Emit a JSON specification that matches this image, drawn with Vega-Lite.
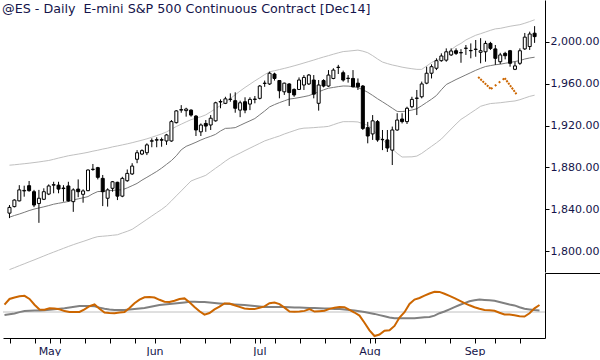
{
"$schema": "https://vega.github.io/schema/vega-lite/v6.json",
"padding": 0,
"background": "white",
"spacing": 0,
"config": {"view": {"stroke": null}, "font": "DejaVu Sans", "axis": {"labelFont": "DejaVu Sans"}},
"datasets": {
"bars": [
{"i":0,"o":1836.25,"h":1844,"l":1831.5,"c":1841.75,"m":1832.4,"u":1882.1,"lb":1782.3,"f":7.3,"s":-2.9},
{"i":1,"o":1842.5,"h":1849.5,"l":1841.75,"c":1848.75,"m":1834.0,"u":1882.5,"lb":1784.1,"f":13,"s":-2.2},
{"i":2,"o":1848,"h":1863,"l":1847.5,"c":1858.5,"m":1835.4,"u":1883.0,"lb":1786.0,"f":14.5,"s":-1.4},
{"i":3,"o":1857.5,"h":1862.5,"l":1852,"c":1858,"m":1837.0,"u":1883.5,"lb":1787.8,"f":15.7,"s":-0.1},
{"i":4,"o":1862.5,"h":1867,"l":1856.75,"c":1857.75,"m":1838.7,"u":1884.0,"lb":1789.7,"f":16.2,"s":1},
{"i":5,"o":1856.75,"h":1858.5,"l":1842,"c":1844,"m":1840.1,"u":1884.6,"lb":1791.5,"f":13.1,"s":1.2},
{"i":6,"o":1845.5,"h":1858.5,"l":1827,"c":1850.5,"m":1841.2,"u":1885.2,"lb":1793.4,"f":7.3,"s":1.4},
{"i":7,"o":1849.5,"h":1860,"l":1848.75,"c":1856.75,"m":1842.3,"u":1885.9,"lb":1795.3,"f":2.6,"s":1.6},
{"i":8,"o":1854.5,"h":1863.75,"l":1853.5,"c":1862.25,"m":1843.5,"u":1886.6,"lb":1797.2,"f":2.3,"s":1.8},
{"i":9,"o":1863,"h":1866.25,"l":1855.25,"c":1863.5,"m":1844.8,"u":1887.7,"lb":1799.0,"f":3.7,"s":2.3},
{"i":10,"o":1863,"h":1866.25,"l":1855.25,"c":1859.25,"m":1845.7,"u":1888.9,"lb":1800.8,"f":3.5,"s":2.8},
{"i":11,"o":1860.25,"h":1863,"l":1847.25,"c":1859.75,"m":1846.5,"u":1890.0,"lb":1802.6,"f":2.8,"s":3.3},
{"i":12,"o":1862.25,"h":1866.25,"l":1847.25,"c":1848,"m":1847.4,"u":1891.1,"lb":1804.4,"f":0.9,"s":3.8},
{"i":13,"o":1847.25,"h":1860,"l":1837.5,"c":1858.5,"m":1848.9,"u":1891.9,"lb":1806.1,"f":0.1,"s":4.5},
{"i":14,"o":1859.25,"h":1868.5,"l":1851.5,"c":1856.75,"m":1849.9,"u":1892.7,"lb":1807.7,"f":0,"s":5.2},
{"i":15,"o":1854.25,"h":1859,"l":1846.25,"c":1857.5,"m":1850.9,"u":1893.5,"lb":1809.2,"f":0,"s":5.9},
{"i":16,"o":1857.75,"h":1878,"l":1857.25,"c":1877.5,"m":1852.1,"u":1894.4,"lb":1810.8,"f":2.7,"s":6},
{"i":17,"o":1878,"h":1883.25,"l":1876.75,"c":1878.25,"m":1854.8,"u":1895.5,"lb":1812.5,"f":5.8,"s":6},
{"i":18,"o":1879.75,"h":1880.5,"l":1868.5,"c":1870.5,"m":1856.9,"u":1896.4,"lb":1813.8,"f":7.5,"s":5.7},
{"i":19,"o":1869.5,"h":1872.75,"l":1843,"c":1856.75,"m":1857.0,"u":1897.5,"lb":1814.2,"f":3.2,"s":4.4},
{"i":20,"o":1850.5,"h":1860,"l":1842.5,"c":1858.5,"m":1857.6,"u":1898.4,"lb":1814.6,"f":-0.6,"s":3.2},
{"i":21,"o":1860,"h":1867,"l":1856.75,"c":1866.25,"m":1858.0,"u":1899.6,"lb":1815.1,"f":-1,"s":2.5},
{"i":22,"o":1865.75,"h":1866.25,"l":1848.75,"c":1852.5,"m":1858.4,"u":1900.5,"lb":1815.6,"f":-1.2,"s":2},
{"i":23,"o":1852.5,"h":1871,"l":1851.5,"c":1869.5,"m":1858.6,"u":1901.5,"lb":1817.3,"f":-0.6,"s":2},
{"i":24,"o":1867.25,"h":1878,"l":1866.25,"c":1874.25,"m":1860.4,"u":1902.5,"lb":1818.9,"f":-0.1,"s":2.1},
{"i":25,"o":1873.75,"h":1884,"l":1872.75,"c":1881.25,"m":1862.5,"u":1903.6,"lb":1820.8,"f":4,"s":2.5},
{"i":26,"o":1887.75,"h":1896.5,"l":1884,"c":1894,"m":1864.7,"u":1904.8,"lb":1823.9,"f":8.8,"s":2.9},
{"i":27,"o":1892.75,"h":1897.25,"l":1891.75,"c":1896,"m":1867.8,"u":1906.0,"lb":1827.1,"f":12.3,"s":3.4},
{"i":28,"o":1894,"h":1903,"l":1891.75,"c":1901.5,"m":1870.5,"u":1907.3,"lb":1830.3,"f":14.7,"s":3.9},
{"i":29,"o":1905,"h":1907.75,"l":1899.25,"c":1905.5,"m":1873.3,"u":1908.8,"lb":1833.5,"f":15,"s":4.9},
{"i":30,"o":1906,"h":1908.75,"l":1899.25,"c":1906.5,"m":1876.1,"u":1910.4,"lb":1836.7,"f":14.5,"s":5.9},
{"i":31,"o":1906.5,"h":1908.5,"l":1899.75,"c":1906,"m":1879.3,"u":1912.0,"lb":1839.8,"f":12.2,"s":6.9},
{"i":32,"o":1905.25,"h":1912,"l":1901.5,"c":1911,"m":1882.9,"u":1913.9,"lb":1843.4,"f":10.3,"s":7.4},
{"i":33,"o":1905.25,"h":1925.25,"l":1904.5,"c":1923.75,"m":1886.5,"u":1916.5,"lb":1848.0,"f":10,"s":7.9},
{"i":34,"o":1922.75,"h":1934.75,"l":1922,"c":1934,"m":1891.1,"u":1919.1,"lb":1852.8,"f":11.3,"s":8.5},
{"i":35,"o":1934.75,"h":1939.5,"l":1932.25,"c":1935.25,"m":1896.8,"u":1921.3,"lb":1857.5,"f":13,"s":9},
{"i":36,"o":1934.25,"h":1937,"l":1928.5,"c":1935.75,"m":1900.1,"u":1923.5,"lb":1862.3,"f":13.6,"s":9.6},
{"i":37,"o":1934.75,"h":1935.5,"l":1928.5,"c":1930,"m":1902.0,"u":1925.6,"lb":1867.0,"f":9.8,"s":10.2},
{"i":38,"o":1929,"h":1930,"l":1910,"c":1915.75,"m":1904.0,"u":1927.0,"lb":1868.9,"f":5.1,"s":10.2},
{"i":39,"o":1914,"h":1922,"l":1910,"c":1920.5,"m":1906.2,"u":1928.4,"lb":1870.6,"f":0.7,"s":10.1},
{"i":40,"o":1922,"h":1925.25,"l":1914,"c":1919.5,"m":1908.1,"u":1930.2,"lb":1872.4,"f":-2.7,"s":9.9},
{"i":41,"o":1920.5,"h":1930,"l":1915.75,"c":1927,"m":1909.7,"u":1933.1,"lb":1875.8,"f":-1,"s":9.5},
{"i":42,"o":1924.5,"h":1942.75,"l":1923.75,"c":1941.75,"m":1911.6,"u":1936.2,"lb":1879.2,"f":2.6,"s":9.1},
{"i":43,"o":1942.5,"h":1945,"l":1936.5,"c":1943,"m":1914.8,"u":1939.1,"lb":1882.5,"f":5.3,"s":8.6},
{"i":44,"o":1941.25,"h":1947.5,"l":1940.5,"c":1945.5,"m":1917.3,"u":1942.2,"lb":1886.0,"f":8.6,"s":8.2},
{"i":45,"o":1945,"h":1950.75,"l":1942.75,"c":1945.25,"m":1917.5,"u":1945.8,"lb":1889.1,"f":8.4,"s":7.9},
{"i":46,"o":1943.75,"h":1951.75,"l":1932.25,"c":1936.5,"m":1918.0,"u":1949.4,"lb":1891.4,"f":6.8,"s":7.6},
{"i":47,"o":1934.75,"h":1943.75,"l":1928,"c":1941.75,"m":1920.2,"u":1953.0,"lb":1893.7,"f":5.1,"s":7.3},
{"i":48,"o":1942.75,"h":1947,"l":1931.75,"c":1934.75,"m":1922.4,"u":1956.4,"lb":1896.1,"f":3.5,"s":6.9},
{"i":49,"o":1940.5,"h":1947,"l":1934.75,"c":1945,"m":1924.5,"u":1959.5,"lb":1898.4,"f":3.1,"s":6.4},
{"i":50,"o":1945.25,"h":1948.25,"l":1941.25,"c":1945,"m":1926.7,"u":1962.7,"lb":1900.7,"f":2.9,"s":5.9},
{"i":51,"o":1946,"h":1958.75,"l":1945,"c":1957.75,"m":1930.3,"u":1965.6,"lb":1903.0,"f":4.2,"s":5.4},
{"i":52,"o":1960.25,"h":1963,"l":1957,"c":1960.5,"m":1933.9,"u":1968.7,"lb":1905.3,"f":5.6,"s":5},
{"i":53,"o":1959.75,"h":1971.5,"l":1958.75,"c":1970,"m":1937.8,"u":1971.4,"lb":1906.9,"f":8.8,"s":5},
{"i":54,"o":1969.25,"h":1970.5,"l":1963,"c":1965,"m":1940.0,"u":1972.4,"lb":1908.5,"f":9.5,"s":5},
{"i":55,"o":1963,"h":1963.5,"l":1946,"c":1953.25,"m":1941.9,"u":1973.5,"lb":1910.0,"f":7.9,"s":5},
{"i":56,"o":1952.25,"h":1961,"l":1949.25,"c":1960.5,"m":1943.6,"u":1974.6,"lb":1911.9,"f":4.4,"s":5},
{"i":57,"o":1959.75,"h":1960.5,"l":1938.75,"c":1951.5,"m":1945.3,"u":1975.8,"lb":1913.5,"f":0.5,"s":4.8},
{"i":58,"o":1954.5,"h":1955.5,"l":1947.5,"c":1949.25,"m":1945.9,"u":1977.1,"lb":1915.1,"f":0.2,"s":4.6},
{"i":59,"o":1954.5,"h":1966,"l":1954,"c":1963.5,"m":1946.7,"u":1978.4,"lb":1916.7,"f":0.4,"s":4.4},
{"i":60,"o":1958.75,"h":1968.25,"l":1954,"c":1966,"m":1947.6,"u":1979.8,"lb":1917.5,"f":1.1,"s":4.3},
{"i":61,"o":1959.75,"h":1969.25,"l":1958.75,"c":1968.25,"m":1948.6,"u":1981.2,"lb":1917.7,"f":3,"s":4.1},
{"i":62,"o":1963.5,"h":1968.25,"l":1946,"c":1950,"m":1950.4,"u":1982.6,"lb":1918.0,"f":0.4,"s":4},
{"i":63,"o":1941.25,"h":1963.5,"l":1934.25,"c":1958.75,"m":1952.2,"u":1984.1,"lb":1918.4,"f":0.8,"s":3.8},
{"i":64,"o":1963,"h":1964.25,"l":1956.5,"c":1957.75,"m":1954.1,"u":1985.5,"lb":1918.7,"f":1.3,"s":3.6},
{"i":65,"o":1957.75,"h":1973,"l":1957,"c":1968.25,"m":1955.7,"u":1986.8,"lb":1919.2,"f":3.1,"s":3.4},
{"i":66,"o":1965,"h":1974.75,"l":1964.25,"c":1973,"m":1956.4,"u":1988.2,"lb":1920.8,"f":4.3,"s":3.1},
{"i":67,"o":1975.5,"h":1978,"l":1969.25,"c":1975.75,"m":1957.2,"u":1989.5,"lb":1922.4,"f":5.1,"s":2.9},
{"i":68,"o":1970.5,"h":1972.5,"l":1962,"c":1963.5,"m":1957.8,"u":1990.7,"lb":1923.7,"f":4.8,"s":2.6},
{"i":69,"o":1965.25,"h":1968.25,"l":1961,"c":1965,"m":1957.7,"u":1991.1,"lb":1923.7,"f":2.1,"s":2},
{"i":70,"o":1965,"h":1973,"l":1956.5,"c":1957,"m":1957.2,"u":1991.6,"lb":1923.7,"f":-0.5,"s":1.4},
{"i":71,"o":1960.5,"h":1965,"l":1954,"c":1957,"m":1956.3,"u":1992.1,"lb":1923.4,"f":-3.6,"s":0.8},
{"i":72,"o":1957.75,"h":1958.75,"l":1915.75,"c":1917.25,"m":1954.2,"u":1991.1,"lb":1921.7,"f":-10.7,"s":0.1},
{"i":73,"o":1918,"h":1923.5,"l":1903,"c":1910,"m":1951.8,"u":1989.6,"lb":1920.2,"f":-18.4,"s":-0.9},
{"i":74,"o":1912,"h":1930,"l":1906.25,"c":1924.5,"m":1948.8,"u":1986.8,"lb":1916.4,"f":-24,"s":-1.9},
{"i":75,"o":1923.75,"h":1925.25,"l":1904.5,"c":1906.25,"m":1945.6,"u":1983.6,"lb":1911.1,"f":-22.5,"s":-3.1},
{"i":76,"o":1906.5,"h":1915.75,"l":1896.5,"c":1906.75,"m":1942.7,"u":1980.7,"lb":1906.4,"f":-18.8,"s":-4.2},
{"i":77,"o":1906.25,"h":1915.75,"l":1894.75,"c":1898.5,"m":1939.7,"u":1979.2,"lb":1902.1,"f":-18.3,"s":-5.4},
{"i":78,"o":1896.5,"h":1919,"l":1882.25,"c":1915.75,"m":1936.6,"u":1977.9,"lb":1897.7,"f":-13.9,"s":-6.3},
{"i":79,"o":1915.75,"h":1931.75,"l":1915,"c":1925.25,"m":1933.5,"u":1976.9,"lb":1893.4,"f":-5.5,"s":-6.3},
{"i":80,"o":1926.25,"h":1931.75,"l":1922,"c":1923.75,"m":1933.3,"u":1975.8,"lb":1889.9,"f":-0.2,"s":-6.3},
{"i":81,"o":1923.75,"h":1938,"l":1921.5,"c":1936.5,"m":1934.0,"u":1975.0,"lb":1890.0,"f":8.1,"s":-6.3},
{"i":82,"o":1938,"h":1947.5,"l":1936.5,"c":1945,"m":1934.8,"u":1974.3,"lb":1890.1,"f":12.4,"s":-6.2},
{"i":83,"o":1946.25,"h":1954,"l":1930,"c":1946,"m":1936.1,"u":1973.7,"lb":1890.8,"f":14,"s":-5.7},
{"i":84,"o":1947.5,"h":1962,"l":1946,"c":1959.75,"m":1939.0,"u":1973.7,"lb":1893.4,"f":16.3,"s":-5.2},
{"i":85,"o":1960.5,"h":1976.25,"l":1959.5,"c":1970,"m":1942.1,"u":1976.9,"lb":1896.8,"f":18.5,"s":-4.9},
{"i":86,"o":1970,"h":1978.5,"l":1965,"c":1976.25,"m":1945.2,"u":1980.2,"lb":1900.1,"f":20.3,"s":-3.6},
{"i":87,"o":1974.75,"h":1984.25,"l":1973,"c":1982,"m":1948.7,"u":1982.6,"lb":1903.5,"f":20.1,"s":-1.2},
{"i":88,"o":1982,"h":1989,"l":1981,"c":1986.5,"m":1954.2,"u":1984.4,"lb":1907.1,"f":18.2,"s":0.5},
{"i":89,"o":1982.5,"h":1993.75,"l":1981,"c":1990.5,"m":1959.2,"u":1988.4,"lb":1911.9,"f":16.1,"s":2.7},
{"i":90,"o":1987.5,"h":1993.75,"l":1986.5,"c":1991.25,"m":1961.6,"u":1992.5,"lb":1916.7,"f":13.8,"s":4.9},
{"i":91,"o":1991.5,"h":1993.75,"l":1987.5,"c":1989,"m":1964.0,"u":1996.0,"lb":1921.5,"f":11.3,"s":7},
{"i":92,"o":1989.5,"h":1993,"l":1980,"c":1989.75,"m":1966.2,"u":1998.5,"lb":1925.9,"f":8.9,"s":8.9},
{"i":93,"o":1993.75,"h":1997,"l":1987.5,"c":1994,"m":1968.4,"u":2001.8,"lb":1928.9,"f":6.7,"s":10.7},
{"i":94,"o":1991.5,"h":1998.5,"l":1984.25,"c":1991.75,"m":1970.6,"u":2004.1,"lb":1932.1,"f":4.7,"s":11.7},
{"i":95,"o":1993,"h":2001.75,"l":1985.75,"c":1992.75,"m":1972.8,"u":2006.3,"lb":1935.2,"f":3.2,"s":12.6},
{"i":96,"o":1990,"h":2003.5,"l":1979.5,"c":1991.5,"m":1974.7,"u":2007.8,"lb":1938.4,"f":2,"s":12.1},
{"i":97,"o":1990.5,"h":2001,"l":1981,"c":1998.5,"m":1976.4,"u":2009.4,"lb":1939.8,"f":1.8,"s":11.7},
{"i":98,"o":1998.5,"h":2000,"l":1992.25,"c":1993.75,"m":1977.3,"u":2011.0,"lb":1941.0,"f":1.3,"s":11.2},
{"i":99,"o":1993.25,"h":1997,"l":1978,"c":1984.25,"m":1978.1,"u":2012.4,"lb":1941.4,"f":-0.7,"s":10},
{"i":100,"o":1981,"h":1989.5,"l":1978.75,"c":1987.5,"m":1978.6,"u":2012.9,"lb":1941.8,"f":-2.4,"s":8.8},
{"i":101,"o":1989,"h":1990.5,"l":1983.25,"c":1986.75,"m":1979.5,"u":2013.9,"lb":1942.4,"f":-2.6,"s":7.6},
{"i":102,"o":1991.5,"h":1992.25,"l":1976.25,"c":1979.5,"m":1980.3,"u":2014.9,"lb":1943.0,"f":-3.2,"s":6.6},
{"i":103,"o":1973.75,"h":1981,"l":1973,"c":1977,"m":1981.2,"u":2015.7,"lb":1943.5,"f":-4.2,"s":4.8},
{"i":104,"o":1979.5,"h":1993.75,"l":1978,"c":1991.5,"m":1982.1,"u":2016.4,"lb":1944.7,"f":-4.5,"s":3.2},
{"i":105,"o":1993.25,"h":2008.5,"l":1992.25,"c":2004.5,"m":1983.6,"u":2017.8,"lb":1946.3,"f":-1.3,"s":2.6},
{"i":106,"o":1995.5,"h":2009.75,"l":1992.25,"c":2007.5,"m":1984.6,"u":2019.4,"lb":1947.9,"f":3.6,"s":1.9},
{"i":107,"o":2008.25,"h":2015,"l":1999,"c":2005,"m":1985.3,"u":2021.1,"lb":1949.0,"f":7,"s":1.4}
],
"zig": [
{"i":95.5,"v":1966.4,"leg":"a","sty":"dense"},
{"i":98.1,"v":1954.9,"leg":"a","sty":"dense"},
{"i":98.1,"v":1954.9,"leg":"b","sty":"sparse"},
{"i":100.9,"v":1965.4,"leg":"b","sty":"sparse"},
{"i":100.9,"v":1965.4,"leg":"c","sty":"dense"},
{"i":103.3,"v":1950.1,"leg":"c","sty":"dense"}
],
"zero": [{"i": -0.3, "i2": 108.1, "z": 0}]
},
"vconcat": [
{
"width": 542,
"height": 272,
"title": {"text": "@ES - Daily \u00a0E-mini S&P 500 Continuous Contract [Dec14]", "anchor": "start", "orient": "top", "offset": -26, "baseline": "alphabetic", "dx": -1, "fontSize": 12.7, "fontWeight": "normal", "color": "#14144a", "font": "DejaVu Sans"},
"data": {"name": "bars"},
"encoding": {"x": {"field": "i", "type": "quantitative", "scale": {"domain": [-0.3, 108.1], "nice": false, "zero": false}, "axis": null}},
"layer": [
{"mark": {"type": "line", "color": "#c0c0c0", "strokeWidth": 1},
 "encoding": {"y": {"field": "u", "type": "quantitative", "scale": {"domain": [1780, 2040], "nice": false, "zero": false},
  "axis": {"orient": "right", "title": null, "grid": false, "values": [1800,1820,1840,1860,1880,1900,1920,1940,1960,1980,2000,2020],
   "labelExpr": "datum.value % 40 == 0 ? format(datum.value, ',.2f') : ''",
   "tickSize": 4,
   "domainColor": "black", "tickColor": "black", "labelColor": "#14144a", "labelFontSize": 11, "labelPadding": 1,
   "labelOverlap": false, "labelFlush": false, "labelBound": false}}}},
{"mark": {"type": "line", "color": "#c0c0c0", "strokeWidth": 1}, "encoding": {"y": {"field": "lb", "type": "quantitative"}}},
{"mark": {"type": "line", "color": "#7a7a7a", "strokeWidth": 1}, "encoding": {"y": {"field": "m", "type": "quantitative"}}},
{"mark": {"type": "rule", "color": "black", "strokeWidth": 1}, "encoding": {"y": {"field": "l", "type": "quantitative"}, "y2": {"field": "h"}}},
{"mark": {"type": "bar", "size": 3, "stroke": "black", "strokeWidth": 1},
 "encoding": {"y": {"field": "o", "type": "quantitative"}, "y2": {"field": "c"},
  "fill": {"condition": {"test": "datum.c >= datum.o", "value": "white"}, "value": "black"}}},
{"data": {"name": "zig"}, "mark": {"type": "line", "color": "#cc6600", "strokeWidth": 2},
 "encoding": {"y": {"field": "v", "type": "quantitative"}, "detail": {"field": "leg"},
  "strokeDash": {"field": "sty", "type": "nominal", "scale": {"domain": ["dense", "sparse"], "range": [[2, 1], [2, 3]]}, "legend": null}}}
]
},
{
"width": 542,
"height": 65,
"data": {"name": "bars"},
"encoding": {"x": {"field": "i", "type": "quantitative", "scale": {"domain": [-0.3, 108.1], "nice": false, "zero": false},
  "axis": {"title": null, "grid": false, "values": [1,6,9,11,16,21,26,30,35,40,45,50,51,54,59,64,69,73,74,79,84,89,94,98,103],
   "labelExpr": "datum.value == 9 ? 'May' : datum.value == 30 ? 'Jun' : datum.value == 51 ? 'Jul' : datum.value == 73 ? 'Aug' : datum.value == 94 ? 'Sep' : ''",
   "tickSize": 5,
   "domainColor": "black", "tickColor": "black", "labelColor": "#14144a", "labelFontSize": 11, "labelPadding": 2,
   "labelOverlap": false, "labelFlush": false, "labelBound": false}}},
"layer": [
{"data": {"name": "zero"}, "mark": {"type": "rule", "color": "#c0c0c0", "strokeWidth": 1},
 "encoding": {"x2": {"field": "i2"}, "y": {"field": "z", "type": "quantitative", "scale": {"domain": [-26, 39], "nice": false, "zero": false},
  "axis": {"orient": "right", "labels": false, "ticks": true, "values": [39], "tickSize": 58, "tickColor": "black", "grid": false, "title": null, "domainColor": "black"}}}},
{"mark": {"type": "line", "color": "#808080", "strokeWidth": 2},
 "encoding": {"y": {"field": "s", "type": "quantitative"}}},
{"mark": {"type": "line", "color": "#cc6600", "strokeWidth": 2},
 "encoding": {"y": {"field": "f", "type": "quantitative"}}}
]
}
]
}
